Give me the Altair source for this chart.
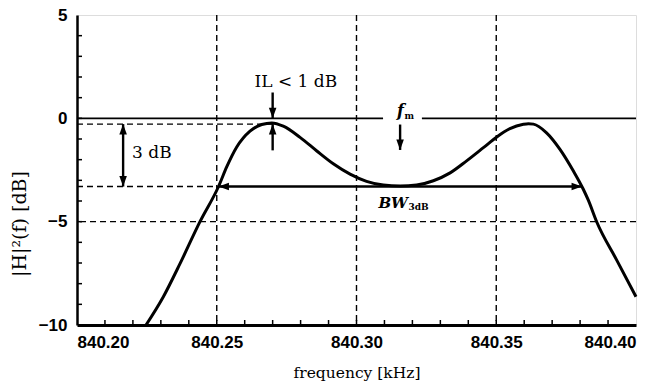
import altair as alt
import pandas as pd

# ---- data ----
freq = [840.2247, 840.2309, 840.2369, 840.2440, 840.2506, 840.2536, 840.2571, 840.2619,
        840.2661, 840.2697, 840.2738, 840.2798, 840.2858, 840.2917, 840.2977, 840.3036,
        840.3096, 840.3156, 840.3215, 840.3275, 840.3335, 840.3394, 840.3454, 840.3502,
        840.3549, 840.3597, 840.3615, 840.3633, 840.3680, 840.3728, 840.3776, 840.3811,
        840.3829, 840.3860, 840.3931, 840.4000]
gain = [-10.0, -8.63, -7.02, -5.0, -3.31, -2.34, -1.40, -0.62,
        -0.30, -0.22, -0.38, -0.92, -1.58, -2.20, -2.70, -3.05,
        -3.23, -3.28, -3.23, -3.02, -2.64, -2.06, -1.42, -0.90,
        -0.50, -0.29, -0.26, -0.28, -0.70, -1.50, -2.55, -3.42,
        -3.95, -5.03, -6.86, -8.63]

x_ticks_labeled = [840.20, 840.25, 840.30, 840.35, 840.40]
y_ticks_labeled = [5, 0, -5, -10]
x_minor = [840.21, 840.22, 840.23, 840.24, 840.25, 840.26, 840.27, 840.28, 840.29, 840.30,
           840.31, 840.32, 840.33, 840.34, 840.35, 840.36, 840.37, 840.38, 840.39]
y_minor = [-9, -8, -7, -6, -5, -4, -3, -2, -1, 0, 1, 2, 3, 4]

grid_x = [840.25, 840.30, 840.35]
grid_y = [-5]

peak_level = -0.28
level_3db = -3.3
f_peak1 = 840.27
f_m = 840.3156
f_3db_lo = 840.2506
f_3db_hi = 840.3807
x_3db_arrow = 840.2165

ref_x1 = [840.20, 840.20]
ref_x2 = [f_peak1, 840.25]
ref_y = [peak_level, level_3db]

zero_x1 = [840.20, 840.3234]
zero_x2 = [840.3095, 840.40]

vshaft_x = [f_peak1, f_peak1, f_m, x_3db_arrow]
vshaft_y1 = [1.25, -1.55, -0.30, peak_level]
vshaft_y2 = [0.0, peak_level, -1.53, level_3db]

head_x = [f_peak1, f_peak1, f_m, x_3db_arrow, x_3db_arrow, f_3db_lo, f_3db_hi]
head_y = [0.0, peak_level, -1.53, peak_level, level_3db, level_3db, level_3db]
head_dir = ["down", "up", "down", "up", "down", "left", "right"]
paths = {
    "down": "M0,0L-0.36,-1L0.36,-1Z",
    "up": "M0,0L-0.36,1L0.36,1Z",
    "left": "M0,0L1,-0.36L1,0.36Z",
    "right": "M0,0L-1,-0.36L-1,0.36Z",
}

y_title = "|H|²(f) [dB]"
x_title = "frequency [kHz]"

XS = alt.Scale(domain=[840.20, 840.40], nice=False, zero=False)
YS = alt.Scale(domain=[-10, 5], nice=False, zero=False)

serif = "DejaVu Serif"
sans = "Liberation Sans"

curve_df = pd.DataFrame({"f": freq, "g": gain})

base_x = alt.X(
    "f:Q", scale=XS,
    axis=alt.Axis(values=x_ticks_labeled, format=".2f", ticks=False, tickSize=0, grid=False,
                  labelFont=sans, labelFontSize=17, labelFontWeight="bold", labelColor="black",
                  labelPadding=9, domainColor="black", domainWidth=3,
                  title=x_title, titleFont=serif, titleFontSize=15.5,
                  titleFontWeight="normal", titleColor="black",
                  titleBaseline="alphabetic", titleY=52),
)
base_y = alt.Y(
    "g:Q", scale=YS,
    axis=alt.Axis(values=y_ticks_labeled, format="d", ticks=False, tickSize=0, grid=False,
                  labelFont=sans, labelFontSize=17, labelFontWeight="bold", labelColor="black",
                  labelPadding=10, domainColor="black", domainWidth=2.5, title=""),
)

curve = alt.Chart(curve_df).mark_line(color="black", strokeWidth=3, interpolate="monotone").encode(
    x=base_x, y=base_y)

gx = alt.Chart(pd.DataFrame({"f": grid_x})).mark_rule(
    color="black", strokeWidth=1.4, strokeDash=[6, 4]).encode(x=alt.X("f:Q", scale=XS))
gy = alt.Chart(pd.DataFrame({"g": grid_y})).mark_rule(
    color="black", strokeWidth=1.4, strokeDash=[6, 4]).encode(y=alt.Y("g:Q", scale=YS))

ref = alt.Chart(pd.DataFrame({"x1": ref_x1, "x2": ref_x2, "g": ref_y})).mark_rule(
    color="black", strokeWidth=1.4, strokeDash=[6, 4]).encode(
    x=alt.X("x1:Q", scale=XS), x2="x2:Q", y=alt.Y("g:Q", scale=YS))

zero = alt.Chart(pd.DataFrame({"x1": zero_x1, "x2": zero_x2, "g": [0, 0]})).mark_rule(
    color="black", strokeWidth=1.6).encode(
    x=alt.X("x1:Q", scale=XS), x2="x2:Q", y=alt.Y("g:Q", scale=YS))

vshaft = alt.Chart(pd.DataFrame({"f": vshaft_x, "y1": vshaft_y1, "y2": vshaft_y2})).mark_rule(
    color="black", strokeWidth=2.4).encode(
    x=alt.X("f:Q", scale=XS), y=alt.Y("y1:Q", scale=YS), y2="y2:Q")

hshaft = alt.Chart(pd.DataFrame({"x1": [f_3db_lo], "x2": [f_3db_hi], "g": [level_3db]})).mark_rule(
    color="black", strokeWidth=2.4).encode(
    x=alt.X("x1:Q", scale=XS), x2="x2:Q", y=alt.Y("g:Q", scale=YS))

heads = alt.Chart(pd.DataFrame({"f": head_x, "g": head_y,
                                "p": [paths[d] for d in head_dir]})).mark_point(
    filled=True, color="black", opacity=1, size=440, strokeWidth=0).encode(
    x=alt.X("f:Q", scale=XS), y=alt.Y("g:Q", scale=YS), shape=alt.Shape("p:N", scale=None))

yt = alt.Chart(pd.DataFrame({"g": y_minor})).mark_rule(color="black", strokeWidth=1.5).encode(
    y=alt.Y("g:Q", scale=YS), x=alt.value(0), x2=alt.value(5))
xt = alt.Chart(pd.DataFrame({"f": x_minor})).mark_rule(color="black", strokeWidth=1.5).encode(
    x=alt.X("f:Q", scale=XS), y=alt.value(310), y2=alt.value(305))

ytitle = alt.Chart(pd.DataFrame({"t": [y_title]})).mark_text(
    angle=270, align="center", baseline="middle", font=serif, fontSize=19,
    color="black").encode(x=alt.value(-57), y=alt.value(209), text="t:N")


def label(xs, ys, texts, align, size, style="normal", weight="normal", font=serif):
    return alt.Chart(pd.DataFrame({"f": xs, "g": ys, "t": texts})).mark_text(
        align=align, baseline="alphabetic", font=font, fontSize=size, fontStyle=style,
        fontWeight=weight, color="black").encode(
        x=alt.X("f:Q", scale=XS), y=alt.Y("g:Q", scale=YS), text="t:N")


t_il = label([840.2783], [1.5], ["IL < 1 dB"], "center", 17)
t_3db = label([840.2197], [-1.92], ["3 dB"], "left", 17)
t_f = label([840.3170], [0.1], ["f"], "right", 16, style="italic", weight="bold")
t_fm = label([840.3172], [-0.05], ["m"], "left", 9, weight="bold")
t_bw = label([840.3184], [-4.35], ["BW"], "right", 15, style="italic", weight="bold")
t_bws = label([840.3186], [-4.42], ["3dB"], "left", 9, weight="bold")

chart = alt.layer(
    gx, gy, ref, zero, curve, vshaft, hshaft, heads, yt, xt, ytitle,
    t_il, t_3db, t_f, t_fm, t_bw, t_bws,
).properties(
    width=559, height=310,
    autosize=alt.AutoSizeParams(type="none"),
    padding={"left": 69, "top": 7, "right": 16, "bottom": 57},
).configure_view(
    stroke="black", strokeWidth=2
).configure(background="white")

chart.save("out.html", embed_options={"renderer": "svg", "actions": False})
